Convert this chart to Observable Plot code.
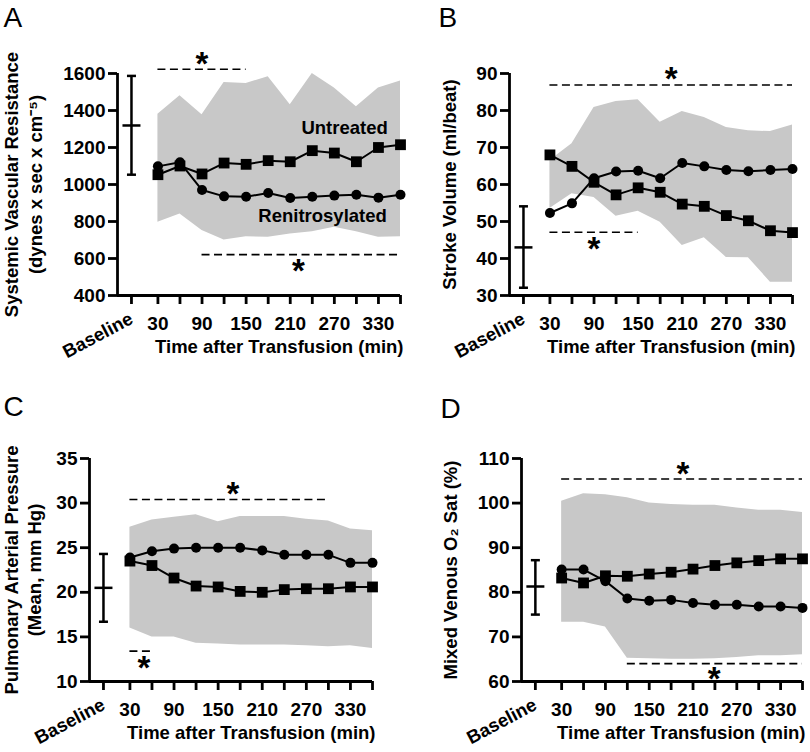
<!DOCTYPE html>
<html><head><meta charset="utf-8">
<script src="https://cdn.jsdelivr.net/npm/d3@7"></script>
<script src="https://cdn.jsdelivr.net/npm/@observablehq/plot@0.6"></script>
<style>
body{margin:0;background:#fff;}
#wrap{position:relative;width:810px;height:752px;overflow:hidden;}
.panel{position:absolute;}
</style></head><body><div id="wrap"></div>
<script>
// ---- shared x layout ----
const times = [30,60,90,120,150,180,210,240,270,300,330,360];
const baselineX = -6;               // position of the "Baseline" category on the time axis
const xDomain = [-25, 360];
const xTickValues = [baselineX, ...times];
const xLabelValues = [30,90,150,210,270,330];

// ---- Panel A: Systemic Vascular Resistance ----
const svrUntreated = [1053,1100,1057,1116,1109,1129,1123,1183,1170,1123,1200,1215];
const svrRenitro   = [1098,1120,970,936,934,954,927,934,940,945,929,945];
const svrUpper     = [1380,1480,1377,1551,1546,1582,1431,1600,1521,1420,1521,1560];
const svrLower     = [796,841,751,700,718,715,733,745,769,745,715,718];
const svrBaseline  = [1053,1319,1587];
const svrYTicks    = [400,600,800,1000,1200,1400,1600];
const svrSig       = [{y:1623,x1:30,x2:150},{y:621,x1:90,x2:360}];
const svrStars     = [{x:90,y:1681},{x:221,y:562}];
const svrLabels    = [{x:284,y:1303,text:"Untreated"},{x:254,y:832,text:"Renitrosylated"}];

// ---- Panel B: Stroke Volume ----
const svUntreated = [68.0,64.9,60.6,57.2,59.1,57.9,54.7,54.1,51.6,50.2,47.5,47.0];
const svRenitro   = [52.3,54.9,61.7,63.5,63.7,61.7,65.8,64.9,63.9,63.6,63.9,64.2];
const svUpper     = [66.5,71.0,80.8,82.4,82.9,76.8,79.7,78.1,75.4,74.5,74.3,76.1];
const svLower     = [53.5,57.5,56.5,51.4,52.8,49.8,43.5,45.6,40.3,40.2,33.6,33.6];
const svBaseline  = [32.1,43.0,54.1];
const svYTicks    = [30,40,50,60,70,80,90];
const svSig       = [{y:86.9,x1:30,x2:360},{y:47.1,x1:30,x2:150}];
const svStars     = [{x:195,y:90},{x:90,y:44}];

// ---- Panel C: Pulmonary Arterial Pressure ----
const papUntreated = [23.5,23.0,21.6,20.7,20.6,20.1,20.0,20.3,20.4,20.4,20.6,20.6];
const papRenitro   = [23.9,24.6,24.9,25.0,25.0,25.0,24.7,24.2,24.2,24.2,23.3,23.3];
const papUpper     = [27.3,28.1,28.4,28.7,27.9,28.5,28.5,28.5,28.2,28.0,27.1,26.9];
const papLower     = [16.0,15.0,15.0,14.3,14.2,14.1,14.1,14.1,14.0,13.9,14.0,13.7];
const papBaseline  = [16.7,20.5,24.3];
const papYTicks    = [10,15,20,25,30,35];
const papSig       = [{y:30.4,x1:30,x2:300},{y:13.4,x1:30,x2:60}];
const papStars     = [{x:170,y:31.6},{x:49,y:12.1}];

// ---- Panel D: Mixed Venous O2 Sat ----
const mvoUntreated = [83.2,82.1,83.7,83.6,84.1,84.5,85.2,86.0,86.6,87.1,87.5,87.5];
const mvoRenitro   = [85.1,85.1,82.5,78.6,78.1,78.3,77.6,77.2,77.2,76.8,76.8,76.5];
const mvoUpper     = [100.4,102.1,101.9,101.2,100.0,99.7,99.5,99.5,98.9,98.4,98.4,97.9];
const mvoLower     = [73.3,73.3,72.2,65.2,65.1,65.0,65.0,65.1,65.4,65.8,65.8,66.0];
const mvoBaseline  = [75.0,81.3,87.2];
const mvoYTicks    = [60,70,80,90,100,110];
const mvoSig       = [{y:105.4,x1:30,x2:360},{y:64.0,x1:120,x2:360}];
const mvoStars     = [{x:196,y:107.8},{x:239,y:61.9}];

const FONT = "'Liberation Sans', Arial, Helvetica, sans-serif";
const hbar = {draw(ctx, size){ const w = Math.sqrt(size/Math.PI); ctx.moveTo(-w,0); ctx.lineTo(w,0); }};

function panel(cfg){
  const band = times.map((t,i)=>({t, lo:cfg.lower[i], hi:cfg.upper[i]}));
  const sq = times.map((t,i)=>({t, v:cfg.untreated[i]}));
  const ci = times.map((t,i)=>({t, v:cfg.renitro[i]}));
  const base = [{lo:cfg.baseline[0], mid:cfg.baseline[1], hi:cfg.baseline[2]}];
  const m = cfg.margins;
  const marks = [
    Plot.areaY(band, {x:"t", y1:"lo", y2:"hi", fill:"#c8c8c8"}),
    Plot.ruleY(cfg.sig, {y:"y", x1:"x1", x2:"x2", stroke:"black", strokeWidth:1.6, strokeDasharray:"8,4.5"}),
    Plot.text(cfg.stars, {x:"x", y:"y", text:()=>"*", fontSize:33, fontWeight:"bold", dy:6}),
    Plot.line(sq, {x:"t", y:"v", stroke:"black", strokeWidth:2}),
    Plot.line(ci, {x:"t", y:"v", stroke:"black", strokeWidth:2}),
    Plot.dot(sq, {x:"t", y:"v", symbol:"square", r:6.1, fill:"black", stroke:"none"}),
    Plot.dot(ci, {x:"t", y:"v", symbol:"circle", r:5, fill:"black", stroke:"none"}),
    // baseline error bar
    Plot.ruleX(base, {x:()=>baselineX, y1:"lo", y2:"hi", stroke:"black", strokeWidth:2.5}),
    Plot.dot(base, {x:()=>baselineX, y:"lo", symbol:hbar, r:4.5, stroke:"black", fill:"none", strokeWidth:2.5}),
    Plot.dot(base, {x:()=>baselineX, y:"hi", symbol:hbar, r:4.5, stroke:"black", fill:"none", strokeWidth:2.5}),
    Plot.dot(base, {x:()=>baselineX, y:"mid", symbol:hbar, r:9, stroke:"black", fill:"none", strokeWidth:2.5}),
    // axes
    Plot.ruleX([xDomain[0]], {stroke:"black", strokeWidth:2.8}),
    Plot.ruleY([cfg.yDomain[0]], {stroke:"black", strokeWidth:2.8}),
    Plot.axisY(cfg.yTicks, {anchor:"left", tickSize:9, tickPadding:3, strokeWidth:2.8, label:null,
      tickFormat:d=>String(d), fontSize:19, fontWeight:"bold"}),
    Plot.axisX(xTickValues, {anchor:"bottom", tickSize:9, tickPadding:12, strokeWidth:2.8, label:null,
      tickFormat:d=>xLabelValues.includes(d)?String(d):"", fontSize:19, fontWeight:"bold"}),
    Plot.text(["Baseline"], {x:()=>baselineX, frameAnchor:"bottom", rotate:-28, textAnchor:"end", lineAnchor:"middle", dx:0, dy:22, fontSize:18.5, fontWeight:"bold"}),
    Plot.text(["Time after Transfusion (min)"], {frameAnchor:"bottom-right", textAnchor:"end", lineAnchor:"middle", dx:3, dy:52, fontSize:18.5, fontWeight:"bold"}),
    // panel letter
    Plot.text([cfg.letter], {frameAnchor:"top-left", textAnchor:"start", lineAnchor:"top", dx:cfg.letterPos[0]-m[3], dy:cfg.letterPos[1]-m[0], fontSize:28, fontWeight:"normal"}),
  ];
  cfg.titles.forEach(([txt, cx])=>{
    marks.push(Plot.text([txt], {frameAnchor:"left", rotate:-90, textAnchor:"middle", lineAnchor:"middle", dx:cx-m[3], fontSize:18.5, fontWeight:"bold"}));
  });
  if (cfg.labels) marks.push(Plot.text(cfg.labels, {x:"x", y:"y", text:"text", fontSize:18.5, fontWeight:"bold"}));
  return Plot.plot({
    width:405, height:376,
    marginTop:m[0], marginRight:m[1], marginBottom:m[2], marginLeft:m[3],
    style:{fontFamily:FONT, fontSize:"18.5px", fontWeight:"bold", color:"black", background:"transparent", overflow:"visible"},
    x:{domain:xDomain},
    y:{domain:cfg.yDomain},
    marks
  });
}

const panels = [
  {pos:[0,0], letter:"A", letterPos:[3,7], margins:[73,5,81,117], yDomain:[400,1600],
   untreated:svrUntreated, renitro:svrRenitro, upper:svrUpper, lower:svrLower, baseline:svrBaseline,
   yTicks:svrYTicks, sig:svrSig, stars:svrStars, labels:svrLabels,
   titles:[["Systemic Vascular Resistance",12],["(dynes x sec x cm\u207B\u2075)",36]]},
  {pos:[405,0], letter:"B", letterPos:[33,7], margins:[73,18,81,104], yDomain:[30,90],
   untreated:svUntreated, renitro:svRenitro, upper:svUpper, lower:svLower, baseline:svBaseline,
   yTicks:svYTicks, sig:svSig, stars:svStars,
   titles:[["Stroke Volume (ml/beat)",45]]},
  {pos:[0,376], letter:"C", letterPos:[3,20], margins:[82,33,71,89], yDomain:[10,35],
   untreated:papUntreated, renitro:papRenitro, upper:papUpper, lower:papLower, baseline:papBaseline,
   yTicks:papYTicks, sig:papSig, stars:papStars,
   titles:[["Pulmonary Arterial Pressure",12],["(Mean, mm Hg)",35]]},
  {pos:[405,376], letter:"D", letterPos:[35,22], margins:[82,8,71,116], yDomain:[60,110],
   untreated:mvoUntreated, renitro:mvoRenitro, upper:mvoUpper, lower:mvoLower, baseline:mvoBaseline,
   yTicks:mvoYTicks, sig:mvoSig, stars:mvoStars,
   titles:[["Mixed Venous O\u2082 Sat (%)",46]]},
];

const wrap = document.getElementById("wrap");
panels.forEach(cfg=>{
  const div = document.createElement("div");
  div.className = "panel";
  div.style.left = cfg.pos[0]+"px";
  div.style.top = cfg.pos[1]+"px";
  div.appendChild(panel(cfg));
  wrap.appendChild(div);
});
</script>
</body></html>
